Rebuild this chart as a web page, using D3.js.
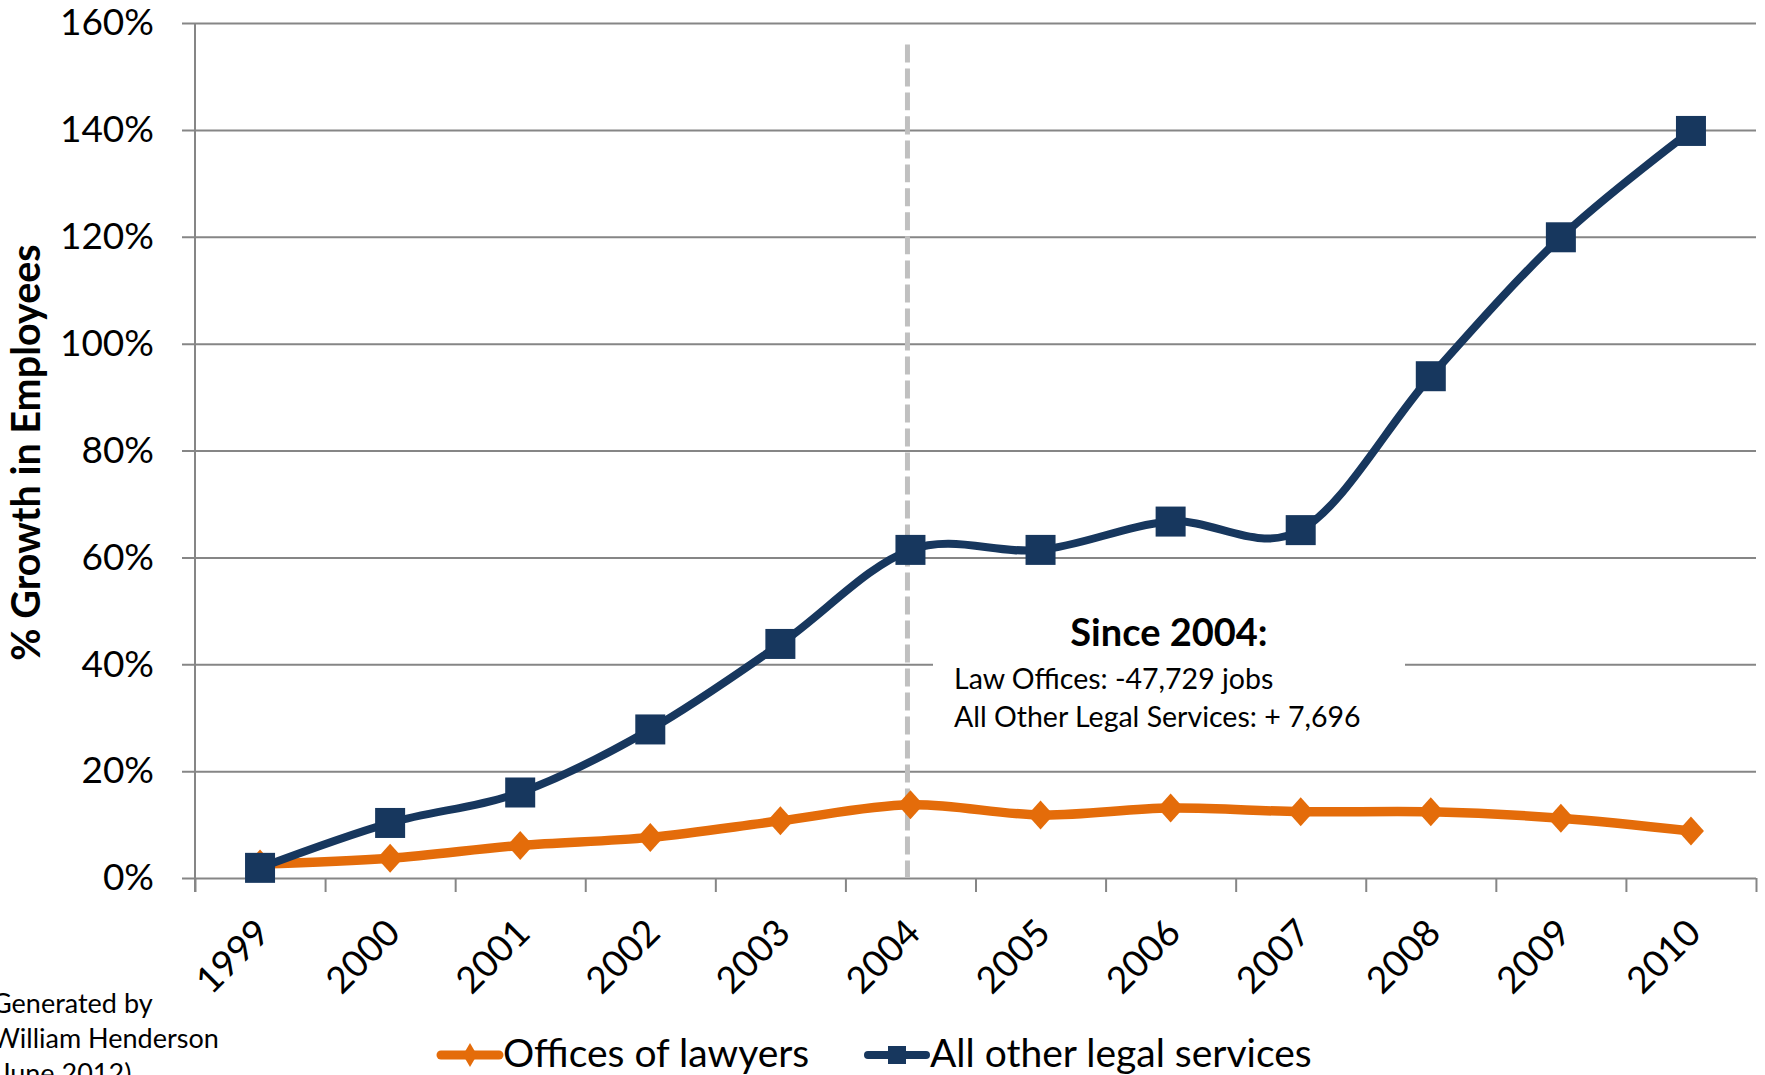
<!DOCTYPE html>
<html>
<head>
<meta charset="utf-8">
<script src="https://cdn.jsdelivr.net/npm/d3@7"></script>
<style>
	body { margin: 0; background: #fff; }
	svg { display: block; font-family: Lato, "Open Sans", sans-serif; }
	.grid line { stroke: #868686; stroke-width: 2; }
	.grid path { display: none; }
	.grid text { font-size: 37px; fill: #000; }
	.xticks line { stroke: #868686; stroke-width: 2; }
	.xticks path { display: none; }
	.xlabels path, .xlabels line { display: none; }
	.xlabels text { font-size: 37px; fill: #000; }
</style>
</head>
<body>
<div id="graphic"></div>
<script>
// chart data, % growth in employees since 1998
const years = ['1999', '2000', '2001', '2002', '2003', '2004', '2005', '2006', '2007', '2008', '2009', '2010'];
const lawyers = [2.6, 3.7, 6.1, 7.6, 10.7, 13.7, 11.8, 13.1, 12.4, 12.4, 11.2, 8.8];
const otherLegal = [1.9, 10.3, 16.0, 27.8, 43.8, 61.4, 61.4, 66.7, 65.1, 93.9, 119.9, 139.8];
const yTicks = [0, 20, 40, 60, 80, 100, 120, 140, 160];
const seriesNames = ['Offices of lawyers', 'All other legal services'];
const colours = ['#E46C0A', '#17375E'];
// dashed marker line at 2004, up to ~156%
const markerYear = '2004';
const markerTop = 156;
const noteTitle = 'Since 2004:';
const noteLines = ['Law Offices: -47,729 jobs', 'All Other Legal Services: + 7,696'];
const credit = ['Generated by', 'William Henderson', '(June 2012)'];

const width = 1765, height = 1075;
const margin = { top: 23, right: 9, bottom: 197, left: 195 };
const plotRight = width - margin.right;
const plotBottom = height - margin.bottom;

const svg = d3.select('#graphic')
	.append('svg')
	.attr('width', width)
	.attr('height', height);

svg.append('rect').attr('width', width).attr('height', height).attr('fill', '#fff');

const x = d3.scaleBand()
	.domain(years)
	.range([margin.left, plotRight])
	.padding(0);
const cx = (d) => x(d) + x.bandwidth() / 2;

const y = d3.scaleLinear()
	.domain([0, 160])
	.range([plotBottom, margin.top]);

// gridlines + y labels (axis anchored on the right so lines reach past the y axis)
svg.append('g')
	.attr('class', 'grid')
	.attr('transform', 'translate(' + plotRight + ',0)')
	.call(
		d3.axisLeft(y)
			.tickValues(yTicks)
			.tickSize(plotRight - margin.left + 13)
			.tickPadding(28)
			.tickFormat((d) => d + '%')
	)
	.attr('font-family', null)
	.attr('font-size', null);

// y axis line
svg.append('line')
	.attr('x1', margin.left).attr('x2', margin.left)
	.attr('y1', y(160)).attr('y2', y(0) + 14)
	.attr('stroke', '#868686').attr('stroke-width', 2);

// x tick marks at category boundaries
const xEdges = d3.scaleLinear().domain([0, years.length]).range([margin.left, plotRight]);
svg.append('g')
	.attr('class', 'xticks')
	.attr('transform', 'translate(0,' + plotBottom + ')')
	.call(d3.axisBottom(xEdges).tickValues(d3.range(years.length + 1)).tickSize(14).tickFormat(''));

// x labels, rotated
svg.append('g')
	.attr('class', 'xlabels')
	.attr('transform', 'translate(0,' + plotBottom + ')')
	.call(d3.axisBottom(x).tickSize(0).tickPadding(0))
	.attr('font-family', null)
	.attr('font-size', null)
	.selectAll('text')
	.attr('text-anchor', 'end')
	.attr('dy', null)
	.attr('y', 0)
	.attr('transform', 'translate(12,57) rotate(-45)');

// y axis title
svg.append('text')
	.attr('transform', 'translate(40,' + ((y(0) + y(160)) / 2 + 2) + ') rotate(-90)')
	.attr('text-anchor', 'middle')
	.style('font-size', '39.5px')
	.style('font-weight', 'bold')
	.text('% Growth in Employees');

// note box
const note = svg.append('g');
note.append('rect')
	.attr('x', 933).attr('y', 600)
	.attr('width', 472).attr('height', 140)
	.attr('fill', '#fff');
note.append('text')
	.attr('x', 1169).attr('y', 646)
	.attr('text-anchor', 'middle')
	.style('font-size', '38px')
	.style('font-weight', 'bold')
	.text(noteTitle);
note.selectAll('text.line')
	.data(noteLines)
	.join('text')
	.attr('class', 'line')
	.attr('x', 954)
	.attr('y', (d, i) => 689 + i * 38)
	.style('font-size', '28.5px')
	.text((d) => d);

// dashed line at 2004
svg.append('line')
	.attr('x1', cx(markerYear) - 3).attr('x2', cx(markerYear) - 3)
	.attr('y1', y(markerTop)).attr('y2', y(0))
	.attr('stroke', '#C0C0C0')
	.attr('stroke-width', 5)
	.attr('stroke-dasharray', '18,6');

const line = d3.line()
	.x((d, i) => cx(years[i]))
	.y((d) => y(d))
	.curve(d3.curveCatmullRom.alpha(0));

const diamond = (w, h) => `M0,${-h / 2}L${w / 2},0L0,${h / 2}L${-w / 2},0Z`;

// offices of lawyers
svg.append('path')
	.datum(lawyers)
	.attr('d', line)
	.attr('fill', 'none')
	.attr('stroke', colours[0])
	.attr('stroke-width', 9.5)
	.attr('stroke-linejoin', 'round');
svg.append('g')
	.selectAll('path')
	.data(lawyers)
	.join('path')
	.attr('transform', (d, i) => 'translate(' + cx(years[i]) + ',' + y(d) + ')')
	.attr('d', diamond(26, 29))
	.attr('fill', colours[0]);

// all other legal services
svg.append('path')
	.datum(otherLegal)
	.attr('d', line)
	.attr('fill', 'none')
	.attr('stroke', colours[1])
	.attr('stroke-width', 8)
	.attr('stroke-linejoin', 'round');
svg.append('g')
	.selectAll('rect')
	.data(otherLegal)
	.join('rect')
	.attr('x', (d, i) => cx(years[i]) - 15)
	.attr('y', (d) => y(d) - 15)
	.attr('width', 30)
	.attr('height', 30)
	.attr('fill', colours[1]);

// credit
svg.append('text')
	.attr('x', -8)
	.style('font-size', '27px')
	.selectAll('tspan')
	.data(credit)
	.join('tspan')
	.attr('x', -8)
	.attr('y', (d, i) => 1013 + i * 35)
	.text((d) => d);

// legend
const legendX = [441, 868];
const leg = svg.append('g')
	.selectAll('g')
	.data(seriesNames)
	.join('g')
	.attr('transform', (d, i) => 'translate(' + legendX[i] + ',1055)');
leg.append('line')
	.attr('x1', 0).attr('x2', 58)
	.attr('stroke', (d, i) => colours[i])
	.attr('stroke-width', (d, i) => i ? 8 : 9)
	.attr('stroke-linecap', 'round');
leg.append('path')
	.attr('d', (d, i) => i ? 'M-9,-9H9V9H-9Z' : diamond(14, 24))
	.attr('transform', 'translate(29,0)')
	.attr('fill', (d, i) => colours[i]);
leg.append('text')
	.attr('x', 62)
	.attr('y', 12)
	.style('font-size', '39px')
	.text((d) => d);
</script>
</body>
</html>
